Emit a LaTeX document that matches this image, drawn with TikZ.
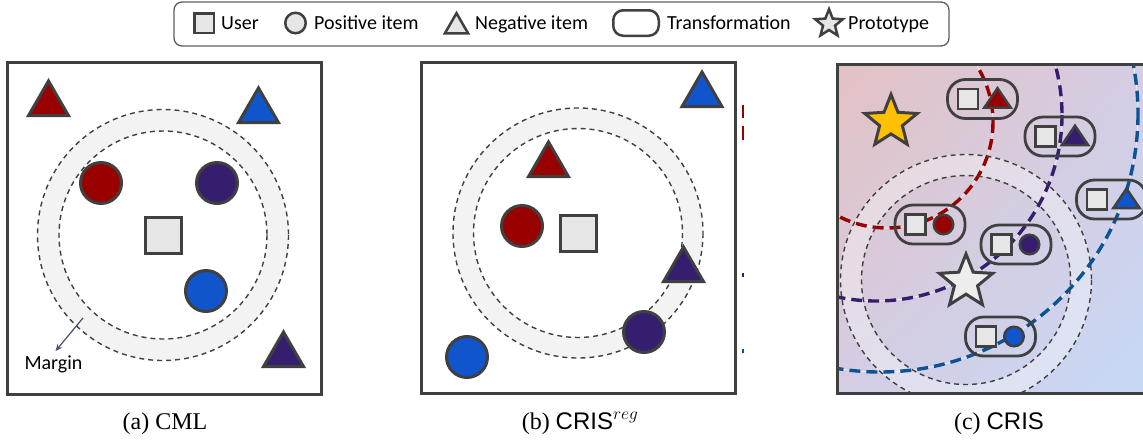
\documentclass[tikz,border=0pt]{standalone}
\usepackage{fontspec}
\setmainfont{Liberation Serif}
\newfontfamily\legfont{Carlito}
\newfontfamily\crisfont{Liberation Sans}
\usetikzlibrary{shapes.geometric,shapes.misc,arrows.meta,calc,shadings}
\definecolor{edge}{HTML}{404040}
\definecolor{ugray}{HTML}{E6E6E6}
\definecolor{dred}{HTML}{990000}
\definecolor{dpur}{HTML}{351E6E}
\definecolor{dblu}{HTML}{1155CC}
\definecolor{cblu}{HTML}{0B5394}
\definecolor{ringfill}{HTML}{F3F3F3}
\definecolor{arrowc}{HTML}{44546A}
\definecolor{gTL}{RGB}{228,193,195}
\definecolor{gMid}{RGB}{212,205,228}
\definecolor{gBR}{RGB}{198,217,246}
\definecolor{ystar}{HTML}{FFC000}
\begin{document}
\begin{tikzpicture}[x=1pt,y=-1pt,
  panelbox/.style={draw=edge,line width=3},
  usrbox/.style={rectangle,draw=edge,fill=ugray,line width=3,minimum size=36,inner sep=0},
  positem/.style={circle,draw=edge,line width=3,minimum size=41,inner sep=0},
  negitem/.style={regular polygon,regular polygon sides=3,draw=edge,line width=3,minimum size=46,inner sep=0},
  susrbox/.style={rectangle,draw=edge,fill=ugray,line width=2.5,minimum size=20,inner sep=0},
  spositem/.style={circle,draw=edge,line width=2.5,minimum size=19.5,inner sep=0},
  snegitem/.style={regular polygon,regular polygon sides=3,draw=edge,line width=2.5,minimum size=30.6,inner sep=0,transform shape,yscale=0.85},
  pillbox/.style={rectangle,draw=edge,line width=2.8,minimum width=70,minimum height=39,rounded corners=18,inner sep=0},
  protostar/.style={star,star points=5,star point ratio=2.3,draw=edge,line width=3,inner sep=0},
  ringdash/.style={draw=edge,line width=1.4,dash pattern=on 5pt off 4pt},
  legtext/.style={font=\legfont\fontsize{20}{24}\selectfont,inner sep=0,anchor=base west},
  captext/.style={font=\fontsize{24}{28}\selectfont,inner sep=0,anchor=base},
  coldash/.style={line width=3.4,dash pattern=on 11pt off 6pt},
  whiteline/.style={draw=white,line width=0.6,opacity=0.8}
]
\useasboundingbox (0,0) rectangle (1143,440);
\clip (0,0) rectangle (1143,440);

% ---------- legend ----------
\draw[draw=edge!85,line width=1.3,rounded corners=8] (174,2) rectangle (949,46);
\node[rectangle,draw=edge,fill=ugray,line width=2.5,minimum size=19.5,inner sep=0] (lu) at (204,23) {};
\node[legtext] (lut) at (221,29.5) {User};
\node[circle,draw=edge,fill=ugray,line width=2.5,minimum size=20.5,inner sep=0] (lp) at (295.5,23) {};
\node[legtext] (lpt) at (314,29.5) {Positive item};
\node[regular polygon,regular polygon sides=3,draw=edge,fill=ugray,line width=2.5,minimum size=27,inner sep=0] (ln) at (456.5,26.7) {};
\node[legtext] (lnt) at (475,29.5) {Negative item};
\node[rectangle,draw=edge,line width=2.5,minimum width=45.5,minimum height=25.5,rounded corners=10,inner sep=0] (lt) at (636,23) {};
\node[legtext] (ltt) at (667,29.5) {Transformation};
\node[star,star points=5,star point ratio=2.3,draw=edge,fill=ugray,line width=2.5,minimum size=29,inner sep=0] (ls) at (829,23.7) {};
\node[legtext] (lst) at (848,29.5) {Prototype};

% ---------- panel (a) ----------
\draw[panelbox] (7.5,62.5) rectangle (321.5,394.5);
\coordinate (ca) at (163,235);
\fill[ringfill,even odd rule] (ca) circle[radius=125.5] (ca) circle[radius=104];
\draw[ringdash] (ca) circle[radius=125.5];
\draw[ringdash] (ca) circle[radius=104];
\node[negitem,fill=dred] (a-n1) at (48.5,104) {};
\node[negitem,fill=dblu] (a-n2) at (258.5,111) {};
\node[negitem,fill=dpur] (a-n3) at (283.5,355) {};
\node[positem,fill=dred] (a-p1) at (101,183) {};
\node[positem,fill=dpur] (a-p2) at (217,183) {};
\node[positem,fill=dblu] (a-p3) at (206,291) {};
\node[usrbox] (a-u) at (163.5,235) {};
\node[font=\legfont\fontsize{20}{24}\selectfont,inner sep=0,anchor=base] (margin) at (53.5,369) {Margin};
\coordinate (mstart) at (83,318);
\draw[draw=arrowc,line width=1.2,-{Stealth[length=7pt,width=6pt]}] (mstart) -- ([xshift=2pt,yshift=4pt]margin.north);

% ---------- panel (b) ----------
\draw[panelbox] (421.5,62.5) rectangle (735.5,393.5);
\coordinate (cb) at (578,233);
\fill[ringfill,even odd rule] (cb) circle[radius=125] (cb) circle[radius=104.5];
\draw[ringdash] (cb) circle[radius=125];
\draw[ringdash] (cb) circle[radius=104.5];
\node[negitem,fill=dblu] (b-n1) at (702,95) {};
\node[negitem,fill=dred] (b-n2) at (548.5,165) {};
\node[negitem,fill=dpur] (b-n3) at (683.5,270) {};
\node[positem,fill=dred] (b-p1) at (522,226) {};
\node[positem,fill=dpur] (b-p2) at (644,332) {};
\node[positem,fill=dblu] (b-p3) at (467,357) {};
\node[usrbox] (b-u) at (578.5,233) {};
\draw[dred,line width=1.5] (743,105) -- (743,118);
\draw[dred,line width=1.5] (743,126) -- (743,140);
\draw[dpur,line width=1.5] (743,273) -- (743,277);
\draw[cblu,line width=1.5] (743,349) -- (743,353);

% ---------- panel (c) ----------
\coordinate (cc) at (966,280);
\coordinate (cr) at (887,122);
\coordinate (cp) at (876,115);
\coordinate (cbl) at (880,114);
\begin{scope}
  \clip (837,64) rectangle (1150,394);
  \shade[upper left=gTL,upper right=gMid,lower left=gMid,lower right=gBR] (837,64) rectangle (1150,394);
  \fill[white,opacity=0.35,even odd rule] (cc) circle[radius=125.5] (cc) circle[radius=104.5];
  \draw[whiteline] (cr) circle[radius=106];
  \draw[whiteline] (cp) circle[radius=186];
  \draw[whiteline] (cbl) circle[radius=258];
  \draw[whiteline,opacity=0.5] (cc) circle[radius=125.5];
  \draw[coldash,dred] (cr) circle[radius=106];
  \draw[coldash,dpur] (cp) circle[radius=186];
  \draw[coldash,cblu] (cbl) circle[radius=258];
  \draw[ringdash] (cc) circle[radius=125.5];
  \draw[ringdash] (cc) circle[radius=104.5];
\end{scope}
\node[protostar,fill=ystar,minimum size=55] (ps1) at (891,122) {};
\node[protostar,fill=ugray!70!white,minimum size=56] (ps2) at (966,282) {};

\node[pillbox] (t1) at (982.5,99) {};
\node[susrbox] (t1u) at ([xshift=-14.5pt]t1.center) {};
\node[snegitem,fill=dred] (t1i) at ([xshift=15pt,yshift=-2.2pt]t1.center) {};

\node[pillbox] (t2) at (1060,136.5) {};
\node[susrbox] (t2u) at ([xshift=-14.5pt]t2.center) {};
\node[snegitem,fill=dpur] (t2i) at ([xshift=15pt,yshift=-2.2pt]t2.center) {};

\node[pillbox] (t3) at (1111.5,199.5) {};
\node[susrbox] (t3u) at ([xshift=-14.5pt]t3.center) {};
\node[snegitem,fill=dblu] (t3i) at ([xshift=15pt,yshift=-2.2pt]t3.center) {};

\node[pillbox] (t4) at (930,224.5) {};
\node[susrbox] (t4u) at ([xshift=-14.5pt]t4.center) {};
\node[spositem,fill=dred] (t4i) at ([xshift=13.5pt]t4.center) {};

\node[pillbox] (t5) at (1016,244.5) {};
\node[susrbox] (t5u) at ([xshift=-14.5pt]t5.center) {};
\node[spositem,fill=dpur] (t5i) at ([xshift=13.5pt]t5.center) {};

\node[pillbox] (t6) at (1000.5,336.5) {};
\node[susrbox] (t6u) at ([xshift=-14.5pt]t6.center) {};
\node[spositem,fill=dblu] (t6i) at ([xshift=13.5pt]t6.center) {};

\draw[panelbox] (837.5,64.5) rectangle (1170,393.5);

% ---------- captions ----------
\node[captext] (capa) at (165,429) {(a) CML};
\node[captext] (capb) at (580,429) {(b) {\crisfont CRIS}$^{reg}$};
\node[captext] (capc) at (999,429) {(c) {\crisfont CRIS}};
\end{tikzpicture}
\end{document}
